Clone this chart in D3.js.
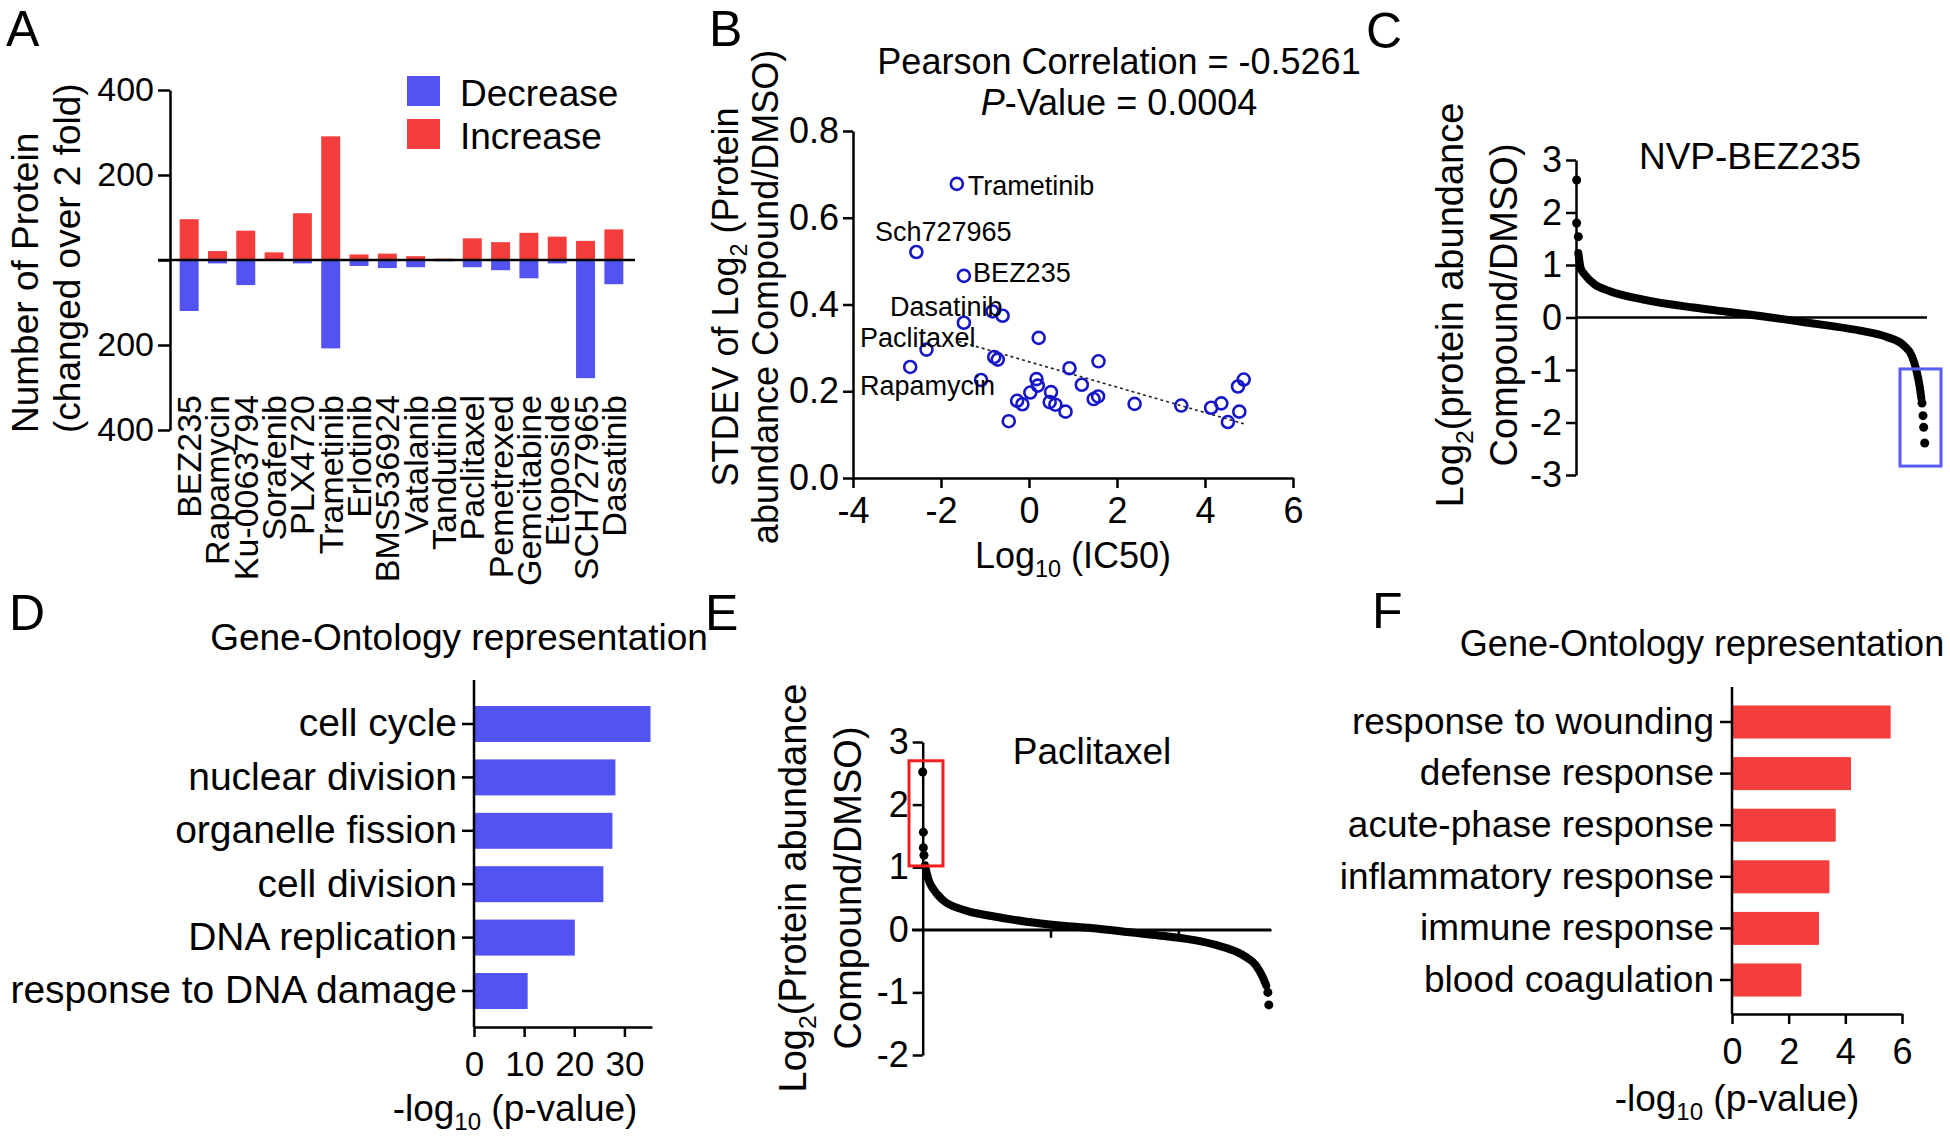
<!DOCTYPE html>
<html><head><meta charset="utf-8">
<script src="https://cdn.jsdelivr.net/npm/d3@7"></script>
<style>
body{margin:0;background:#fff;}
svg{display:block;font-family:"Liberation Sans",Arial,sans-serif;}
</style></head><body>
<svg id="fig" width="1950" height="1146"></svg>
<script>
// ================= DATA =================
// Panel A
const drugs = ["BEZ235","Rapamycin","Ku-0063794","Sorafenib","PLX4720","Trametinib","Erlotinib","BMS536924","Vatalanib","Tandutinib","Paclitaxel","Pemetrexed","Gemcitabine","Etoposide","SCH727965","Dasatinib"];
const increaseCounts = [96,21,69,18,110,291,13,15,9,3,51,42,64,55,45,72];
const decreaseCounts = [120,8,59,2,8,208,14,19,17,3,17,24,43,8,278,57];
const countTicks = [400,200,0,-200,-400];
const legendLabels = ["Decrease","Increase"];

// Panel B
const ic50Log = [-1.64,-2.56,-1.48,-0.83,-0.60,-1.48,0.22,-2.33,-2.70,-0.79,-0.71,0.92,1.58,-1.09,0.17,0.20,0.03,0.50,1.20,-0.27,-0.15,0.47,0.60,0.83,-0.46,1.47,1.57,2.40,3.46,4.14,4.37,4.52,4.78,4.75,4.88];
const stdevLog2 = [0.678,0.521,0.466,0.384,0.374,0.358,0.323,0.296,0.256,0.279,0.273,0.253,0.269,0.226,0.228,0.213,0.197,0.198,0.215,0.178,0.170,0.175,0.169,0.153,0.131,0.182,0.188,0.171,0.167,0.162,0.172,0.129,0.153,0.211,0.227];
const scatterLabelNames = ["Trametinib","Sch727965","BEZ235","Dasatinib","Paclitaxel","Rapamycin"];
const scatterLabelX = [-1.39,-3.50,-1.27,-3.16,-3.84,-3.84];
const scatterLabelY = [0.652,0.546,0.452,0.373,0.302,0.191];
const trendX = [-1.6, 4.88];
const trendY = [0.315, 0.125];
const icTicks = [-4,-2,0,2,4,6];
const sdTicks = [0,0.2,0.4,0.6,0.8];

// Panel C (NVP-BEZ235 ranked log2 ratios)
const bezTraceRank = [36,73,140,269,528,1046,1824,2342,2860,3378,3896,4414,4828,5087,5217,5284,5336,5362];
const bezTraceVal  = [1.23,0.94,0.81,0.65,0.50,0.34,0.19,0.11,0.03,-0.06,-0.15,-0.25,-0.37,-0.53,-0.74,-1.00,-1.31,-1.54];
const bezDotRank = [10,10,36,5372,5388,5398,5414];
const bezDotVal  = [2.62,1.80,1.54,-1.63,-1.87,-2.09,-2.39];
const bezBoxRank = [5031,5667];
const bezBoxVal  = [-0.98,-2.83];
const cTicks = [3,2,1,0,-1,-2,-3];

// Panel E (Paclitaxel ranked log2 ratios)
const pacTraceRank = [36,88,166,322,634,1077,1624,2145,2718,3239,3786,4333,4776,5036,5208,5323,5375];
const pacTraceVal  = [1.03,0.81,0.65,0.47,0.32,0.22,0.13,0.07,0.02,-0.04,-0.10,-0.18,-0.30,-0.42,-0.56,-0.76,-0.89];
const pacDotRank = [0,10,10,20,5401,5416];
const pacDotVal  = [2.52,1.56,1.31,1.19,-1.00,-1.20];
const pacBoxRank = [-214,317];
const pacBoxVal  = [2.70,1.02];
const eTicks = [3,2,1,0,-1,-2];
const eRankTicks = [2000,4000];

// Panel D
const goDown = ["cell cycle","nuclear division","organelle fission","cell division","DNA replication","response to DNA damage"];
const goDownP = [35.2,28.2,27.6,25.8,20.1,10.7];
const dTicks = [0,10,20,30];
// Panel F
const goUp = ["response to wounding","defense response","acute-phase response","inflammatory response","immune response","blood coagulation"];
const goUpP = [5.6,4.2,3.66,3.44,3.07,2.45];
const fTicks = [0,2,4,6];

// ================= DRAW =================
const RED = "#f43e3e", BLUE = "#5353f3", DOTBLUE = "#1616c8";
const svg = d3.select("#fig");
svg.append("rect").attr("width",1950).attr("height",1146).attr("fill","#fff");
const intFmt = d => (d < 0 ? "-" : "") + Math.abs(d);

function rich(textSel, parts, fs){
  let shifted = false;
  parts.forEach(p=>{
    const t = textSel.append("tspan").text(p.t);
    if(p.sub){ t.attr("font-size", fs*0.65).attr("dy", fs*0.25); shifted = true; }
    else if(shifted){ t.attr("dy", -fs*0.25); shifted = false; }
    if(p.italic) t.attr("font-style","italic");
  });
  return textSel;
}
function label(x,y,parts,fs,anchor,rot){
  const t = svg.append("text")
    .attr("transform",`translate(${x},${y})`+(rot?` rotate(${rot})`:""))
    .attr("font-size",fs).attr("text-anchor",anchor||"start").attr("fill","#000");
  return rich(t, parts, fs);
}
function styleAxis(g, fs){
  g.selectAll("path.domain").attr("stroke","#000").attr("stroke-width",2.5);
  g.selectAll(".tick line").attr("stroke","#000").attr("stroke-width",2.5);
  g.selectAll(".tick text").attr("font-size",fs).attr("fill","#000")
    .attr("font-family",'"Liberation Sans",Arial,sans-serif');
}
// panel letters
[["A",6,46],["B",709,46],["C",1366,48],["D",9,630],["E",705,630],["F",1372,628]].forEach(d=>{
  svg.append("text").attr("x",d[1]).attr("y",d[2]).attr("font-size",50).text(d[0]);
});

// ---------- Panel A ----------
{
  const x = d3.scaleBand().domain(drugs).range([175,628]).paddingInner(0.33).paddingOuter(0.165);
  const y = d3.scaleLinear().domain([-400,400]).range([430,90]);
  const g = svg.append("g");
  g.selectAll("rect.inc").data(drugs).join("rect")
    .attr("x",d=>x(d)).attr("width",x.bandwidth())
    .attr("y",(d,i)=>y(increaseCounts[i])).attr("height",(d,i)=>y(0)-y(increaseCounts[i]))
    .attr("fill",RED);
  g.selectAll("rect.dec").data(drugs).join("rect")
    .attr("x",d=>x(d)).attr("width",x.bandwidth())
    .attr("y",y(0)).attr("height",(d,i)=>y(-decreaseCounts[i])-y(0))
    .attr("fill",BLUE);
  const ax = svg.append("g").attr("transform","translate(170,0)")
    .call(d3.axisLeft(y).tickValues(countTicks).tickFormat(d=>d===0?"":Math.abs(d)).tickSize(12).tickSizeOuter(0).tickPadding(4));
  styleAxis(ax,34);
  svg.append("line").attr("x1",158).attr("x2",635).attr("y1",y(0)).attr("y2",y(0)).attr("stroke","#000").attr("stroke-width",2.5);
  svg.selectAll("text.alab").data(drugs).join("text")
    .attr("transform",d=>`translate(${x(d)+x.bandwidth()/2+12},395) rotate(-90)`)
    .attr("text-anchor","end").attr("font-size",34).text(d=>d);
  const lc = [BLUE, RED];
  legendLabels.forEach((l,i)=>{
    svg.append("rect").attr("x",407).attr("y",76+i*43).attr("width",33).attr("height",30).attr("fill",lc[i]);
    svg.append("text").attr("x",460).attr("y",106+i*43).attr("font-size",37).text(l);
  });
  label(38,433,[{t:"Number of Protein"}],37,"start",-90);
  label(80,433,[{t:"(changed over 2 fold)"}],37,"start",-90);
}

// ---------- Panel B ----------
{
  const x = d3.scaleLinear().domain([-4,6]).range([853,1293]);
  const y = d3.scaleLinear().domain([0,0.8]).range([478,131]);
  const ax = svg.append("g").attr("transform","translate(0,478)")
    .call(d3.axisBottom(x).tickValues(icTicks).tickFormat(intFmt).tickSize(10).tickSizeOuter(0).tickPadding(9));
  styleAxis(ax,36);
  const ay = svg.append("g").attr("transform","translate(853,0)")
    .call(d3.axisLeft(y).tickValues(sdTicks).tickFormat(d3.format(".1f")).tickSize(10).tickSizeOuter(0).tickPadding(4));
  styleAxis(ay,36);
  svg.append("line")
    .attr("x1",x(trendX[0])).attr("y1",y(trendY[0])).attr("x2",x(trendX[1])).attr("y2",y(trendY[1]))
    .attr("stroke","#222").attr("stroke-width",1.6).attr("stroke-dasharray","3,3");
  svg.selectAll("circle.sc").data(ic50Log).join("circle")
    .attr("cx",d=>x(d)).attr("cy",(d,i)=>y(stdevLog2[i])).attr("r",6)
    .attr("fill","none").attr("stroke",DOTBLUE).attr("stroke-width",2.6);
  scatterLabelNames.forEach((n,i)=>{
    svg.append("text").attr("x",x(scatterLabelX[i])).attr("y",y(scatterLabelY[i])).attr("font-size",27).text(n);
  });
  label(1119,74,[{t:"Pearson Correlation = -0.5261"}],36,"middle");
  label(1119,115,[{t:"P",italic:true},{t:"-Value = 0.0004"}],36,"middle");
  label(1073,568,[{t:"Log"},{t:"10",sub:true},{t:" (IC50)"}],36,"middle");
  label(738,297,[{t:"STDEV of Log"},{t:"2",sub:true},{t:" (Protein"}],36,"middle",-90);
  label(778,297,[{t:"abundance Compound/DMSO)"}],36,"middle",-90);
}

// ---------- Panel C ----------
{
  const x = d3.scaleLinear().domain([0,5450]).range([1576,1927]);
  const y = d3.scaleLinear().domain([-3,3]).range([475,160]);
  const ay = svg.append("g").attr("transform","translate(1576,0)")
    .call(d3.axisLeft(y).tickValues(cTicks).tickFormat(intFmt).tickSize(10).tickSizeOuter(0).tickPadding(4));
  styleAxis(ay,36);
  svg.append("line").attr("x1",1576).attr("x2",x(5450)).attr("y1",y(0)).attr("y2",y(0)).attr("stroke","#000").attr("stroke-width",2.5);
  const line = d3.line().x((d,i)=>x(bezTraceRank[i])).y(d=>y(d)).curve(d3.curveMonotoneX);
  svg.append("path").attr("d",line(bezTraceVal)).attr("fill","none").attr("stroke","#000")
    .attr("stroke-width",8).attr("stroke-linecap","round").attr("stroke-linejoin","round");
  svg.selectAll("circle.cd").data(bezDotRank).join("circle")
    .attr("cx",d=>x(d)).attr("cy",(d,i)=>y(bezDotVal[i])).attr("r",4.5).attr("fill","#000");
  svg.append("rect").attr("x",x(bezBoxRank[0])).attr("y",y(bezBoxVal[0]))
    .attr("width",x(bezBoxRank[1])-x(bezBoxRank[0])).attr("height",y(bezBoxVal[1])-y(bezBoxVal[0]))
    .attr("fill","none").attr("stroke","#5a5af5").attr("stroke-width",3);
  label(1750,169,[{t:"NVP-BEZ235"}],37,"middle");
  label(1463,305,[{t:"Log"},{t:"2",sub:true},{t:"(protein abundance"}],38,"middle",-90);
  label(1517,305,[{t:"Compound/DMSO)"}],38,"middle",-90);
}

// ---------- Panel E ----------
{
  const x = d3.scaleLinear().domain([0,5450]).range([922.7,1271]);
  const y = d3.scaleLinear().domain([-2,3]).range([1055,742]);
  const ay = svg.append("g").attr("transform","translate(922.7,0)")
    .call(d3.axisLeft(y).tickValues(eTicks).tickFormat(intFmt).tickSize(10).tickSizeOuter(0).tickPadding(4));
  styleAxis(ay,36);
  const ax = svg.append("g").attr("transform",`translate(0,${y(0)})`)
    .call(d3.axisBottom(x).tickValues(eRankTicks).tickFormat("").tickSize(8).tickSizeOuter(0));
  styleAxis(ax,35);
  svg.append("line").attr("x1",912).attr("x2",x(5450)).attr("y1",y(0)).attr("y2",y(0)).attr("stroke","#000").attr("stroke-width",2.5);
  const line = d3.line().x((d,i)=>x(pacTraceRank[i])).y(d=>y(d)).curve(d3.curveMonotoneX);
  svg.append("path").attr("d",line(pacTraceVal)).attr("fill","none").attr("stroke","#000")
    .attr("stroke-width",8).attr("stroke-linecap","round").attr("stroke-linejoin","round");
  svg.selectAll("circle.ed").data(pacDotRank).join("circle")
    .attr("cx",d=>x(d)).attr("cy",(d,i)=>y(pacDotVal[i])).attr("r",4.5).attr("fill","#000");
  svg.append("rect").attr("x",x(pacBoxRank[0])).attr("y",y(pacBoxVal[0]))
    .attr("width",x(pacBoxRank[1])-x(pacBoxRank[0])).attr("height",y(pacBoxVal[1])-y(pacBoxVal[0]))
    .attr("fill","none").attr("stroke","#f01e1e").attr("stroke-width",3);
  label(1092,764,[{t:"Paclitaxel"}],37,"middle");
  label(806,888,[{t:"Log"},{t:"2",sub:true},{t:"(Protein abundance"}],38,"middle",-90);
  label(861,888,[{t:"Compound/DMSO)"}],38,"middle",-90);
}

// ---------- Panel D ----------
{
  const x = d3.scaleLinear().domain([0,35.5]).range([474,652]);
  const y = d3.scaleBand().domain(goDown).range([697.3,1017.7]).paddingInner(0.326).paddingOuter(0.163);
  svg.selectAll("rect.d").data(goDown).join("rect")
    .attr("x",x(0)).attr("y",d=>y(d)).attr("height",y.bandwidth())
    .attr("width",(d,i)=>x(goDownP[i])-x(0)).attr("fill",BLUE);
  const ay = svg.append("g").attr("transform","translate(474,0)")
    .call(d3.axisLeft(y).tickSize(12).tickSizeOuter(0).tickPadding(5));
  ay.select("path.domain").remove();
  styleAxis(ay,39);
  svg.append("line").attr("x1",474).attr("x2",474).attr("y1",680).attr("y2",1027).attr("stroke","#000").attr("stroke-width",2.5);
  const ax = svg.append("g").attr("transform","translate(0,1027)")
    .call(d3.axisBottom(x).tickValues(dTicks).tickFormat(intFmt).tickSize(10).tickSizeOuter(0).tickPadding(14));
  styleAxis(ax,35);
  label(459,650,[{t:"Gene-Ontology representation"}],37,"middle");
  label(515,1121,[{t:"-log"},{t:"10",sub:true},{t:" (p-value)"}],37,"middle");
}

// ---------- Panel F ----------
{
  const x = d3.scaleLinear().domain([0,6]).range([1732,1902]);
  const y = d3.scaleBand().domain(goUp).range([696.2,1005.8]).paddingInner(0.36).paddingOuter(0.18);
  svg.selectAll("rect.f").data(goUp).join("rect")
    .attr("x",x(0)).attr("y",d=>y(d)).attr("height",y.bandwidth())
    .attr("width",(d,i)=>x(goUpP[i])-x(0)).attr("fill",RED);
  const ay = svg.append("g").attr("transform","translate(1732,0)")
    .call(d3.axisLeft(y).tickSize(12).tickSizeOuter(0).tickPadding(6));
  ay.select("path.domain").remove();
  styleAxis(ay,37);
  svg.append("line").attr("x1",1732).attr("x2",1732).attr("y1",687).attr("y2",1014).attr("stroke","#000").attr("stroke-width",2.5);
  const ax = svg.append("g").attr("transform","translate(0,1014)")
    .call(d3.axisBottom(x).tickValues(fTicks).tickFormat(intFmt).tickSize(10).tickSizeOuter(0).tickPadding(14));
  styleAxis(ax,36);
  label(1702,656,[{t:"Gene-Ontology representation"}],36,"middle");
  label(1737,1111,[{t:"-log"},{t:"10",sub:true},{t:" (p-value)"}],37,"middle");
}
</script></body></html>
